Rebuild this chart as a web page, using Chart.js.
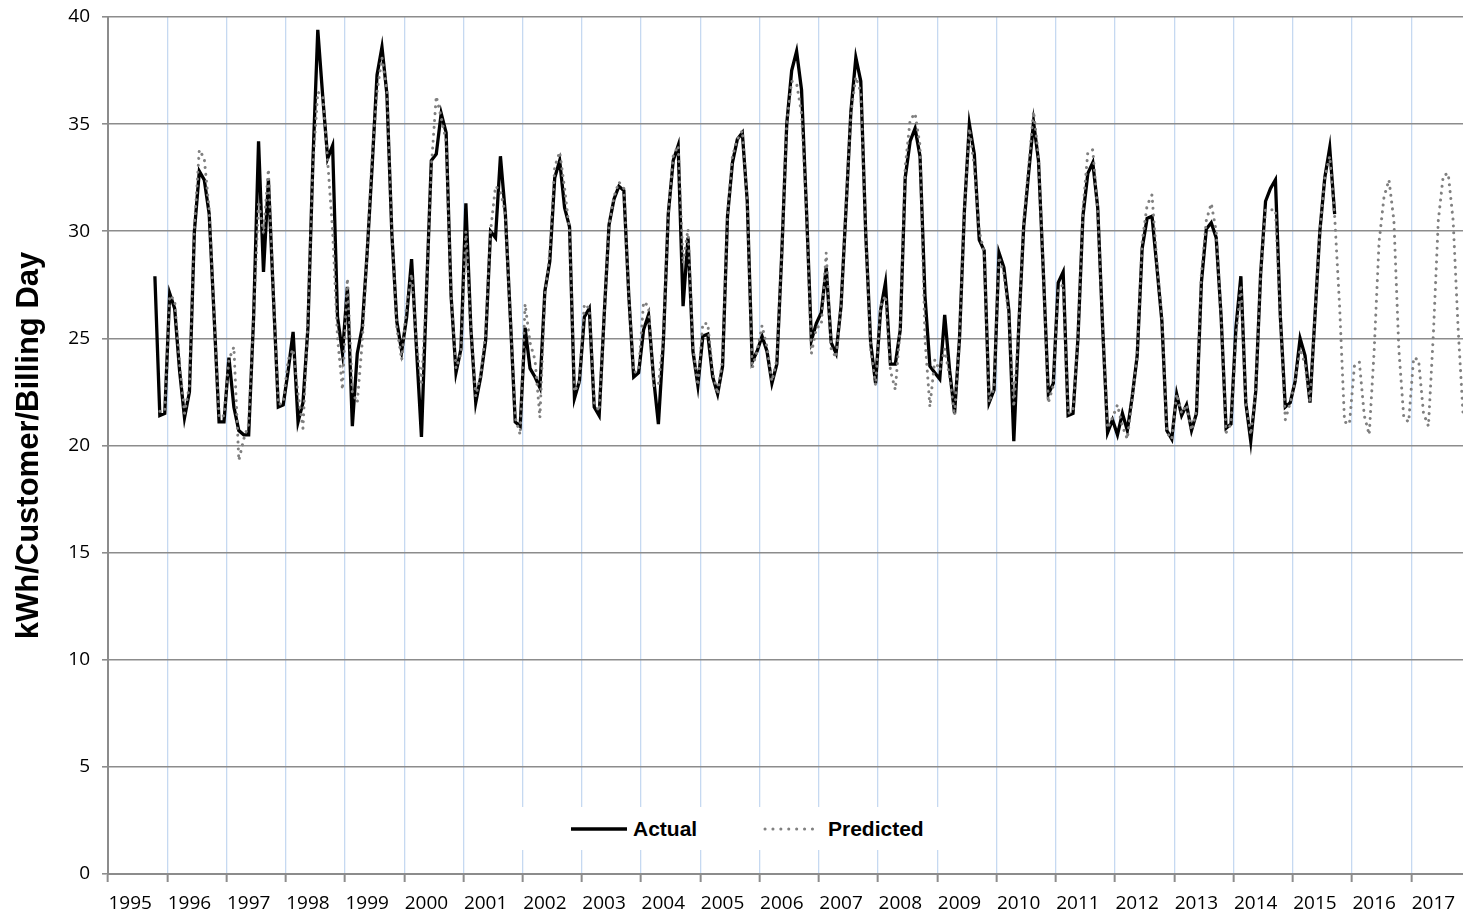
<!DOCTYPE html>
<html><head><meta charset="utf-8">
<script src="https://cdn.jsdelivr.net/npm/chart.js@4.4.1/dist/chart.umd.min.js"></script>
<style>
html,body{margin:0;padding:0;background:#fff;}
#wrap{position:relative;width:1463px;height:916px;overflow:hidden;}
#legend{position:absolute;left:500px;top:807px;width:490px;height:43px;background:#fff;font:bold 21px "Liberation Sans",Arial,sans-serif;color:#000;}
.item{position:absolute;top:0;height:43px;display:flex;align-items:center;}
.item svg{display:block;}
</style></head>
<body><div id="wrap"><canvas id="c" width="1463" height="916"></canvas><div id="legend"></div></div>
<script>
// ---- data ----
const yearLabels = ['1995','1996','1997','1998','1999','2000','2001','2002','2003','2004','2005','2006','2007','2008','2009','2010','2011','2012','2013','2014','2015','2016','2017'];
const yTicks = [0,5,10,15,20,25,30,35,40];
const seriesNames = ['Actual','Predicted'];
// month index counted from Jan 1995 (0 = Jan 1995)
const actualStartMonth = 9;     // Oct 1995
const predictedStartMonth = 10; // Nov 1995
const actualValues = [
 27.9,21.4,21.5,
 27.1,26.4,23.5,21.3,22.5,30.0,32.8,32.4,30.8,26.0,21.1,21.1,
 24.1,21.8,20.7,20.5,20.5,26.0,34.2,28.1,32.4,27.0,21.8,21.9,
 23.5,25.3,21.1,22.0,25.5,33.2,39.4,36.3,33.4,34.0,26.0,24.3,
 27.4,20.9,24.3,25.5,29.0,33.0,37.3,38.6,36.4,29.9,25.8,24.4,
 26.0,28.7,24.5,20.4,27.0,33.3,33.6,35.5,34.6,27.0,23.4,24.5,
 31.3,25.5,22.0,23.2,24.9,30.0,29.7,33.5,30.8,26.0,21.1,20.9,
 25.5,23.6,23.2,22.7,27.2,28.6,32.5,33.3,31.1,30.2,22.2,23.0,
 26.0,26.4,21.8,21.4,26.0,30.3,31.5,32.1,31.9,27.0,23.2,23.4,
 25.4,26.1,23.2,21.0,24.8,30.8,33.3,34.0,26.5,29.7,24.4,22.8,
 25.1,25.2,23.2,22.4,23.7,30.7,33.2,34.3,34.6,31.4,23.9,24.4,
 25.1,24.4,22.9,23.8,29.0,35.0,37.5,38.4,36.6,31.0,24.9,25.7,
 26.2,28.3,24.8,24.3,26.5,31.0,35.6,38.1,37.0,29.9,24.8,22.9,
 26.3,27.6,23.8,23.8,25.4,32.5,34.2,34.8,33.5,27.0,23.7,23.4,
 23.1,26.1,23.5,21.5,25.0,31.0,35.0,33.6,29.6,29.1,22.0,22.6,
 29.0,28.3,26.3,20.2,25.5,30.2,32.7,35.1,33.3,28.0,22.4,22.9,
 27.6,28.1,21.4,21.5,25.0,30.7,32.7,33.2,31.1,25.5,20.6,21.2,
 20.5,21.5,20.7,22.3,24.2,29.2,30.6,30.7,28.3,25.8,20.7,20.3,
 22.4,21.4,21.9,20.7,21.5,27.6,30.1,30.4,29.7,26.0,20.8,21.0,
 25.5,27.9,22.0,20.2,22.5,28.0,31.4,32.0,32.4,26.0,21.8,22.0,
 23.0,25.0,24.2,22.0,26.0,30.0,32.5,33.9,30.8
];
const predictedValues = [
 21.6,21.6,
 27.0,26.8,23.8,21.5,22.8,30.2,33.8,33.4,31.0,26.0,21.3,21.4,
 24.0,24.6,19.3,20.3,21.0,26.0,31.4,29.9,32.9,27.0,21.9,22.0,
 24.0,24.5,22.4,20.8,25.8,33.0,36.5,36.3,33.3,30.0,25.0,22.6,
 27.8,22.5,22.0,24.8,29.0,33.5,36.5,38.1,36.6,30.0,25.5,24.0,
 26.5,28.0,24.8,22.8,27.0,33.0,36.3,35.3,34.2,27.0,23.6,24.3,
 30.0,25.5,22.3,23.3,25.2,30.0,32.1,31.9,30.8,26.0,21.3,20.5,
 26.6,24.8,24.0,21.3,27.0,29.0,33.0,33.7,32.0,30.0,22.5,23.0,
 26.6,26.4,22.0,21.6,26.0,30.3,31.6,32.3,32.0,27.0,23.4,23.5,
 26.7,26.5,22.8,22.8,25.0,30.8,33.5,34.0,28.5,30.1,24.6,22.8,
 25.7,25.7,23.4,22.4,24.0,30.7,33.5,34.3,34.7,31.4,23.6,24.4,
 25.6,24.6,23.0,24.0,29.0,35.0,37.0,36.9,35.5,31.0,24.3,25.5,
 25.6,29.0,24.5,24.1,26.5,31.0,35.5,37.2,36.5,29.9,24.5,22.8,
 26.5,27.0,23.5,22.6,25.5,33.0,35.2,35.5,34.0,25.0,21.8,24.0,
 23.5,24.5,23.2,21.4,25.0,31.0,34.8,33.0,30.0,29.0,22.0,22.7,
 28.8,28.0,26.0,21.8,25.5,30.5,33.0,35.6,33.5,28.0,22.0,22.8,
 27.3,27.5,21.5,21.6,25.0,31.0,33.7,33.8,31.0,25.5,20.8,21.3,
 21.9,20.9,20.3,22.2,24.2,29.5,31.2,31.7,28.5,26.0,20.6,20.3,
 22.4,21.5,21.9,20.7,21.6,28.0,30.5,31.3,30.0,26.0,20.6,21.0,
 25.0,27.5,22.0,20.5,22.5,28.0,31.0,31.0,31.0,26.0,21.2,22.0,
 23.0,24.5,23.8,22.0,26.0,30.0,32.5,33.5,30.7,26.5,21.1,21.0,
 23.7,23.9,21.4,20.5,24.4,29.5,31.6,32.4,30.5,24.5,21.3,21.1,
 24.1,24.0,21.5,20.9,25.2,30.5,32.6,32.7,30.5,25.5,21.5
];

// ---- chart ----
const toPoints = (vals, start) => vals.map((v, i) => ({x: start + i + 0.5, y: v}));
const tickFont = {family: '"Open Sans", sans-serif', size: 19};
const X_MAX = 274.5;

new Chart(document.getElementById('c'), {
  type: 'line',
  data: {
    datasets: [
      {label: seriesNames[0], data: toPoints(actualValues, actualStartMonth), borderColor: '#000', borderWidth: 3.3, pointRadius: 0, tension: 0, order: 2, fill: false},
      {label: seriesNames[1], data: toPoints(predictedValues, predictedStartMonth), borderColor: '#808080', borderWidth: 3, borderDash: [0.1, 6.8], borderCapStyle: 'round', pointRadius: 0, tension: 0, order: 1, fill: false}
    ]
  },
  options: {
    responsive: false, animation: false,
    layout: {padding: {top: 17, left: 0, right: 0, bottom: 0}},
    plugins: {legend: {display: false}, tooltip: {enabled: false}},
    scales: {
      x: {
        type: 'linear', min: 0, max: X_MAX,
        afterBuildTicks: s => {
          const t = [];
          yearLabels.forEach((lab, k) => { t.push({value: 12 * k}); t.push({value: 12 * k + 4.5}); });
          s.ticks = t.filter(o => o.value <= X_MAX);
        },
        ticks: {autoSkip: false, maxRotation: 0, minRotation: 0, font: tickFont, color: '#000', padding: 10,
          callback: v => { const r = (v - 4.5) / 12; return Number.isInteger(r) ? yearLabels[r] : ''; }},
        grid: {
          color: c => (c.tick && c.tick.value % 12 === 0 && c.tick.value > 0) ? '#c6d9f1' : 'rgba(0,0,0,0)',
          tickColor: c => (c.tick && c.tick.value % 12 === 0) ? '#8c8c8c' : 'rgba(0,0,0,0)',
          lineWidth: 1.3, tickLength: 8, tickWidth: 2
        },
        border: {color: '#8c8c8c', width: 2},
        afterFit: s => { s.height = 42; s.paddingLeft = 0; s.paddingRight = 0; }
      },
      y: {
        min: 0, max: 40,
        afterBuildTicks: s => { s.ticks = yTicks.map(v => ({value: v})); },
        ticks: {font: tickFont, color: '#000', padding: 12},
        grid: {color: '#8c8c8c', lineWidth: 1.6, tickLength: 6},
        border: {color: '#8c8c8c', width: 2},
        title: {display: true, text: 'kWh/Customer/Billing Day', color: '#000',
          font: {family: '"Liberation Sans", Arial, sans-serif', size: 31, weight: 'bold'}, padding: {top: 11, bottom: 0}},
        afterFit: s => { s.width = 108; s.paddingTop = 0; s.paddingBottom = 0; }
      }
    }
  }
});

// ---- legend (HTML overlay) ----
const lg = document.getElementById('legend');
const legendItems = [
  {name: seriesNames[0], sx: 70, tx: 133, svg: '<line x1="1" y1="5" x2="57" y2="5" stroke="#000" stroke-width="3.3"/>'},
  {name: seriesNames[1], sx: 263, tx: 328, svg: '<line x1="2" y1="5" x2="57" y2="5" stroke="#808080" stroke-width="3" stroke-linecap="round" stroke-dasharray="0.1 7.8"/>'}
];
legendItems.forEach(it => {
  const s = document.createElement('div'); s.className = 'item'; s.style.left = it.sx + 'px';
  s.innerHTML = '<svg width="58" height="10">' + it.svg + '</svg>';
  lg.appendChild(s);
  const t = document.createElement('div'); t.className = 'item'; t.style.left = it.tx + 'px'; t.textContent = it.name;
  lg.appendChild(t);
});
</script>
</body></html>
